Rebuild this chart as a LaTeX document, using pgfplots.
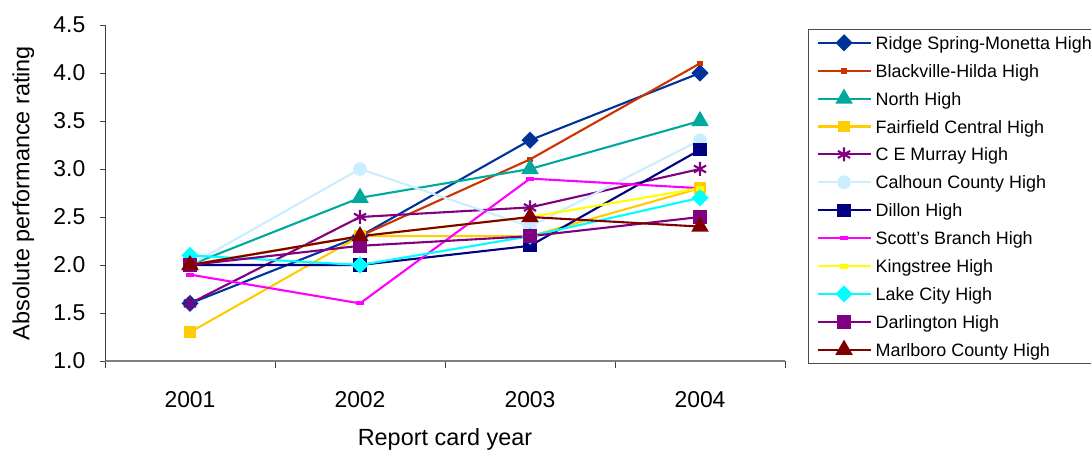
\documentclass[border=0pt]{standalone}
\usepackage{fontspec}
\setmainfont{Liberation Sans}
\usepackage{pgfplots}
\pgfplotsset{compat=1.18}

\definecolor{ridge}{HTML}{003399}
\definecolor{blackville}{HTML}{CC3300}
\definecolor{north}{HTML}{00A99D}
\definecolor{fairfield}{HTML}{FFCC00}
\definecolor{murray}{HTML}{800080}
\definecolor{calhoun}{HTML}{CCECFF}
\definecolor{dillon}{HTML}{000080}
\definecolor{scotts}{HTML}{FF00FF}
\definecolor{kingstree}{HTML}{FFFF00}
\definecolor{lakecity}{HTML}{00FFFF}
\definecolor{darlington}{HTML}{800080}
\definecolor{marlboro}{HTML}{800000}
\definecolor{axisgray}{HTML}{808080}

\begin{document}
\begin{tikzpicture}
\path[use as bounding box] (0bp,0bp) rectangle (1091bp,455bp);
\clip (0bp,0bp) rectangle (1091bp,455bp);
\begin{axis}[
  at={(105bp,94bp)}, anchor=south west,
  scale only axis, width=680bp, height=336bp,
  xmin=0.5, xmax=4.5, ymin=1, ymax=4.5,
  axis x line*=bottom, axis y line*=left,
  every outer x axis line/.append style={-, draw=axisgray, line width=1.8bp},
  every outer y axis line/.append style={-, draw=black!75, line width=0.9bp},
  tick align=outside,
  major tick length=5bp, minor tick length=7bp,
  xtick={1,2,3,4}, xticklabels={2001,2002,2003,2004},
  minor xtick={0.5,1.5,2.5,3.5,4.5},
  xtick style={draw=none},
  minor x tick style={draw=black!75, line width=0.9bp},
  ytick={1,1.5,...,4.5},
  ytick style={draw=black!75, line width=0.9bp},
  /pgf/number format/assume math mode=true,
  y tick label style={/pgf/number format/fixed, /pgf/number format/fixed zerofill, /pgf/number format/precision=1},
  tick label style={font=\fontsize{23}{26}\selectfont},
  x tick label style={anchor=center, yshift=-34bp},
  y tick label style={anchor=east, inner sep=0pt, xshift=-14.5bp},
  xlabel={Report card year},
  ylabel={Absolute performance rating},
  label style={font=\fontsize{23.5}{27}\selectfont},
  xlabel style={at={(axis description cs:0.5,-0.232)}, anchor=center},
  ylabel style={at={(axis description cs:-0.12,0.5)}, anchor=center},
  legend cell align=left,
  legend image code/.code={\draw[mark repeat=2,mark phase=2,#1] plot coordinates {(0bp,0bp) (26.5bp,0bp) (53bp,0bp)};},
  legend style={
    at={(axis description cs:1.0338,0.988)}, anchor=north west,
    draw=black!70, line width=1bp, fill=white,
    inner xsep=8bp, inner ysep=3.8bp,
    column sep=4bp, row sep=8.9bp,
    font=\fontsize{18}{20}\selectfont,
    nodes={inner sep=0pt, text height=16bp, text depth=3bp},
  },
  every axis plot/.append style={line width=2.1bp},
]
% Ridge Spring-Monetta High
\addplot[color=ridge, mark=square*, mark size=5bp, mark options={rotate=45, solid}]
  coordinates {(1,1.6) (2,2.3) (3,3.3) (4,4.0)};
\addlegendentry{Ridge Spring-Monetta High}
% Blackville-Hilda High
\addplot[color=blackville, mark=square*, mark size=1.8bp]
  coordinates {(1,2.0) (2,2.3) (3,3.1) (4,4.1)};
\addlegendentry{Blackville-Hilda High}
% North High
\addplot[color=north, mark=triangle*, mark size=8bp]
  coordinates {(1,2.0) (2,2.7) (3,3.0) (4,3.5)};
\addlegendentry{North High}
% Fairfield Central High
\addplot[color=fairfield, mark=square*, mark size=4.8bp]
  coordinates {(1,1.3) (2,2.3) (3,2.3) (4,2.8)};
\addlegendentry{Fairfield Central High}
% C E Murray High
\addplot[color=murray, mark=asterisk, mark size=7bp]
  coordinates {(1,1.6) (2,2.5) (3,2.6) (4,3.0)};
\addlegendentry{C E Murray High}
% Calhoun County High
\addplot[color=calhoun, mark=*, mark size=5.8bp]
  coordinates {(1,2.0) (2,3.0) (3,2.4) (4,3.3)};
\addlegendentry{Calhoun County High}
% Dillon High
\addplot[color=dillon, mark=square*, mark size=5.5bp]
  coordinates {(1,2.0) (2,2.0) (3,2.2) (4,3.2)};
\addlegendentry{Dillon High}
% Scott's Branch High
\addplot[color=scotts, mark=-, mark size=4bp, mark options={line width=4bp}]
  coordinates {(1,1.9) (2,1.6) (3,2.9) (4,2.8)};
\addlegendentry{Scott's Branch High}
% Kingstree High
\addplot[color=kingstree, mark=-, mark size=4bp, mark options={line width=5bp}]
  coordinates {(1,2.0) (2,2.3) (3,2.5) (4,2.8)};
\addlegendentry{Kingstree High}
% Lake City High
\addplot[color=lakecity, mark=square*, mark size=5bp, mark options={rotate=45, solid}]
  coordinates {(1,2.1) (2,2.0) (3,2.3) (4,2.7)};
\addlegendentry{Lake City High}
% Darlington High
\addplot[color=darlington, mark=square*, mark size=5.8bp]
  coordinates {(1,2.0) (2,2.2) (3,2.3) (4,2.5)};
\addlegendentry{Darlington High}
% Marlboro County High
\addplot[color=marlboro, mark=triangle*, mark size=8bp]
  coordinates {(1,2.0) (2,2.3) (3,2.5) (4,2.4)};
\addlegendentry{Marlboro County High}
\end{axis}
\end{tikzpicture}
\end{document}
